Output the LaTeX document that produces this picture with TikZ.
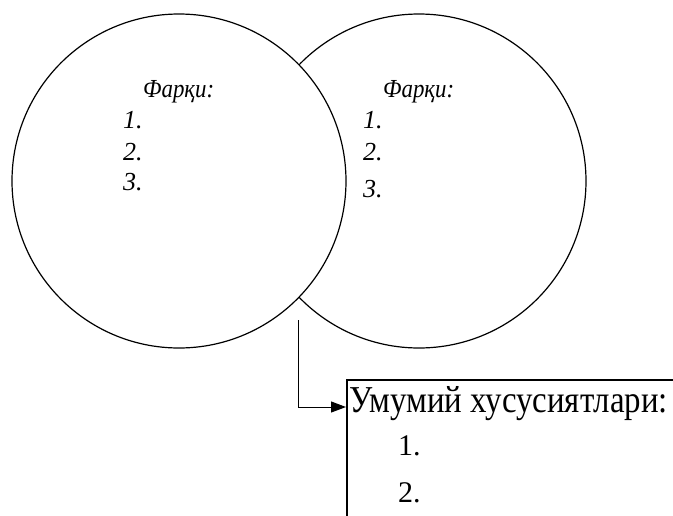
\documentclass[tikz,border=0pt]{standalone}
\usepackage{fontspec}
\setmainfont{Liberation Serif}
\usetikzlibrary{arrows.meta, positioning, calc}

\begin{document}
\begin{tikzpicture}[x=1pt, y=-1pt, >={Triangle[length=15pt,width=11pt]},
  venn/.style={circle, draw, line width=1.2pt, minimum size=334pt, inner sep=0pt},
  item/.style={anchor=base west, inner sep=0pt, font=\fontsize{26}{26}\selectfont\itshape}]
  \useasboundingbox (0,0) rectangle (673,515);
  \clip (0,0) rectangle (673,515);
  \node[venn] (rightset) at (419,181) {};
  \node[venn, fill=white] (leftset) at (179,181) {};
  \node[item, xscale=0.88] (lefttitle) at (143,97) {Фарқи:};
  \node[item, xscale=0.88] (righttitle) at (383,97) {Фарқи:};
  \foreach \n/\y in {1/128,2/160,3/190} \node[item] (left\n) at (123,\y) {\n.};
  \foreach \n/\y in {1/128,2/160,3/197} \node[item] (right\n) at (363,\y) {\n.};
  \node[draw, line width=1.5pt, anchor=north west, minimum width=400pt, minimum height=200pt] (commonbox) at (346,379) {};
  \node[anchor=base west, inner sep=0pt, font=\fontsize{38}{38}\selectfont, xscale=0.865] (commonhead) at (349,412) {Умумий хусусиятлари:};
  \foreach \n/\y in {1/455,2/502} \node[anchor=base west, inner sep=0pt, font=\fontsize{30}{30}\selectfont] (common\n) at (398,\y) {\n.};
  \coordinate (tail) at (298,320);
  \draw[->, line width=1pt] (tail) |- ($(commonbox.north west)+(0,28)$);
\end{tikzpicture}
\end{document}
